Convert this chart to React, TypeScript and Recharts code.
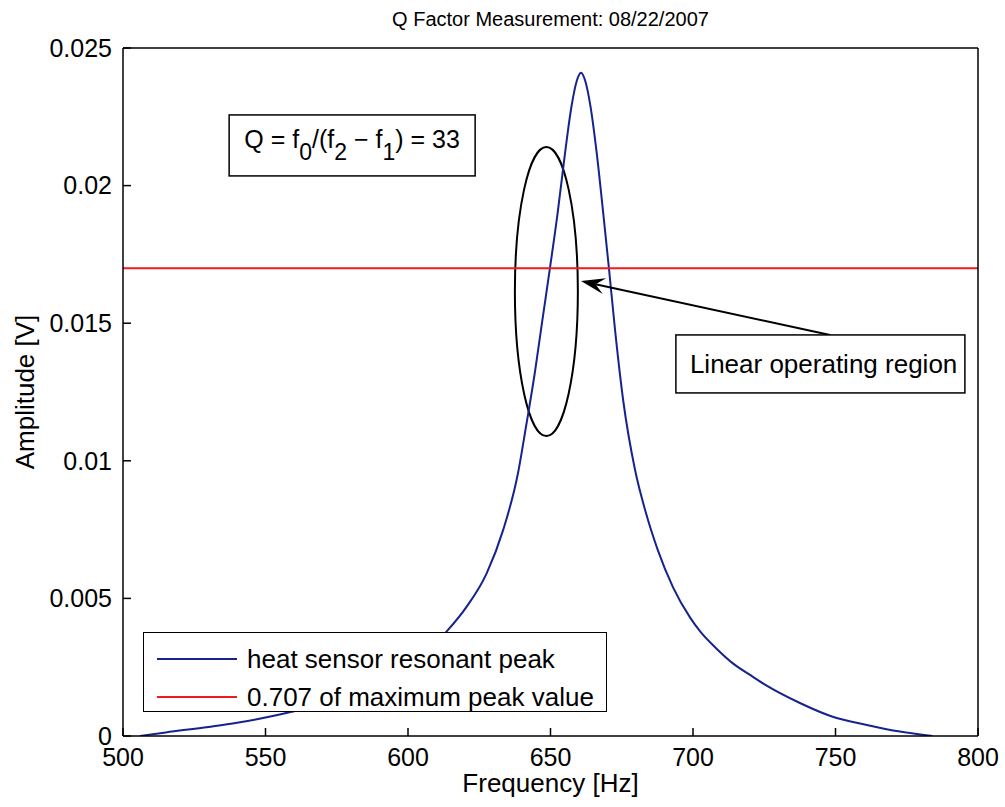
import React from "react";
import { LineChart, Line, XAxis, YAxis, Legend, Label, ReferenceArea, ReferenceLine, ReferenceDot } from "recharts";

const FONT = '"Liberation Sans", Arial, Helvetica, sans-serif';
const BLUE = "#15238e";
const RED = "#f21b1b";

// resonance sweep
const freqHz = [506, 515, 530, 540, 547, 555, 560, 570, 580, 590, 600, 607, 613.5, 620.6, 627.6, 633.4, 638.5, 641.5, 644.5, 647, 649.8, 652.5, 655, 657.4, 659.2, 660.7, 662.2, 664, 666.2, 668.5, 670.5, 672.7, 675.5, 679.6, 683.5, 687.5, 693, 699, 702.5, 708, 714, 720, 726, 737.5, 749, 761, 772.6, 784];
const amplitudeV = [0, 0.00013, 0.00033, 0.00048, 0.00061, 0.00078, 0.0009, 0.00118, 0.00154, 0.002, 0.00256, 0.0031, 0.00379, 0.0047, 0.00591, 0.00749, 0.0095, 0.0113, 0.0132, 0.015, 0.017, 0.019, 0.0211, 0.0229, 0.0238, 0.0241, 0.0238, 0.0229, 0.0212, 0.019, 0.017, 0.0147, 0.0122, 0.0097, 0.0081, 0.0068, 0.0054, 0.0043, 0.0038, 0.0032, 0.00264, 0.00222, 0.00182, 0.0012, 0.0007, 0.0004, 0.00016, 0];

// 0.707 of peak
const thresholdHz = [500, 800];
const thresholdV = [0.017, 0.017];

const xTicks = [500, 550, 600, 650, 700, 750, 800];
const yTicks = [0, 0.005, 0.01, 0.015, 0.02, 0.025];

const seriesNames = ["heat sensor resonant peak", "0.707 of maximum peak value"];

// annotation anchors (data units)
const ellipseHz = [637.5, 659.6];
const ellipseV = [0.0109, 0.0214];
const arrowHz = [748.1, 660.7];
const arrowV = [0.01457, 0.01653];
const qBox = { f: 580.4, v: 0.02146 };
const linBox = { f: 744.7, v: 0.01352 };

const peakData = freqHz.map((f, i) => ({ f, v: amplitudeV[i] }));
const thresholdData = thresholdHz.map((f, i) => ({ f, v: thresholdV[i] }));

const axisStyle = { stroke: "#000", strokeWidth: 1.5 };

const EllipseShape = (p: any) => (
  <ellipse cx={p.x + p.width / 2} cy={p.y + p.height / 2} rx={p.width / 2} ry={p.height / 2} fill="none" stroke="#000" strokeWidth={2} />
);

const ArrowShape = (p: any) => {
  const { x1, y1, x2, y2 } = p;
  const dx = x2 - x1, dy = y2 - y1;
  const len = Math.hypot(dx, dy);
  const ux = dx / len, uy = dy / len;
  const nx = -uy, ny = ux;
  const L = 24, W = 8;
  const bx = x2 - ux * L, by = y2 - uy * L;
  const mx = x2 - ux * L * 0.62, my = y2 - uy * L * 0.62;
  const pts = `${x2},${y2} ${bx + nx * W},${by + ny * W} ${mx},${my} ${bx - nx * W},${by - ny * W}`;
  return (
    <g>
      <line x1={x1} y1={y1} x2={mx} y2={my} stroke="#000" strokeWidth={2} />
      <polygon points={pts} fill="#000" />
    </g>
  );
};

const QBoxShape = (p: any) => {
  const w = 246, h = 61;
  return (
    <g>
      <rect x={p.cx - w / 2} y={p.cy - h / 2} width={w} height={h} fill="none" stroke="#000" strokeWidth={1.5} />
      <text x={p.cx} y={p.cy + 3} textAnchor="middle" fontFamily={FONT} fontSize={25} fill="#000">
        Q = f<tspan dy={12} fontSize={23}>0</tspan>
        <tspan dy={-12}>/(f</tspan>
        <tspan dy={12} fontSize={23}>2</tspan>
        <tspan dy={-12}> − f</tspan>
        <tspan dy={12} fontSize={23}>1</tspan>
        <tspan dy={-12}>) = 33</tspan>
      </text>
    </g>
  );
};

const LinBoxShape = (p: any) => {
  const w = 289, h = 58;
  return (
    <g>
      <rect x={p.cx - w / 2} y={p.cy - h / 2} width={w} height={h} fill="#fff" stroke="#000" strokeWidth={1.5} />
      <text x={p.cx - w / 2 + 14} y={p.cy + 9} fontFamily={FONT} fontSize={26} fill="#000">
        Linear operating region
      </text>
    </g>
  );
};

const renderLegend = (props: any) => {
  const items = [...(props.payload || [])].sort(
    (a: any, b: any) => seriesNames.indexOf(a.value) - seriesNames.indexOf(b.value)
  );
  return (
    <div style={{ background: "#fff", border: "1.5px solid #000", width: 464, height: 80, boxSizing: "border-box", paddingTop: 7, paddingLeft: 13, fontFamily: FONT, fontSize: 26, color: "#000" }}>
      {items.map((item: any) => (
        <div key={item.value} style={{ display: "flex", alignItems: "center", height: 38 }}>
          <svg width={80} height={4} style={{ display: "block" }}>
            <line x1={0} y1={2} x2={80} y2={2} stroke={item.color} strokeWidth={2} />
          </svg>
          <span style={{ marginLeft: 10, whiteSpace: "nowrap" }}>{item.value}</span>
        </div>
      ))}
    </div>
  );
};

export default function App() {
  return (
    <div style={{ position: "absolute", left: 0, top: 0, background: "#fff" }}>
      <LineChart width={1005} height={807} margin={{ top: 47, right: 26, bottom: 6, left: 23 }} style={{ fontFamily: FONT }}>
        <XAxis
          dataKey="f"
          type="number"
          domain={[500, 800]}
          ticks={xTicks}
          interval={0}
          height={65}
          axisLine={axisStyle}
          tickLine={axisStyle}
          tickSize={-8}
          tickMargin={20}
          tick={{ fill: "#000", fontSize: 25, fontFamily: FONT }}
          allowDataOverflow
        >
          <Label value="Frequency [Hz]" position="insideBottom" offset={9} fill="#000" fontSize={26} fontFamily={FONT} />
        </XAxis>
        <XAxis
          xAxisId="top"
          orientation="top"
          dataKey="f"
          type="number"
          domain={[500, 800]}
          ticks={xTicks}
          interval={0}
          height={1}
          axisLine={axisStyle}
          tickLine={axisStyle}
          tickSize={-8}
          tick={{ fill: "none" }}
        >
          <Label value="Q Factor Measurement: 08/22/2007" position="top" offset={21} fill="#000" fontSize={20} fontFamily={FONT} />
        </XAxis>
        <YAxis
          type="number"
          domain={[0, 0.025]}
          ticks={yTicks}
          interval={0}
          width={100}
          axisLine={axisStyle}
          tickLine={axisStyle}
          tickSize={-8}
          tickMargin={19}
          tick={{ fill: "#000", fontSize: 25, fontFamily: FONT }}
          allowDataOverflow
        >
          <Label
            content={({ viewBox }: any) => {
              const x = viewBox.x + 11;
              const y = viewBox.y + viewBox.height / 2;
              return (
                <text x={x} y={y} transform={`rotate(-90, ${x}, ${y})`} textAnchor="middle" fill="#000" fontSize={26} fontFamily={FONT}>
                  Amplitude [V]
                </text>
              );
            }}
          />
        </YAxis>
        <YAxis
          yAxisId="right"
          orientation="right"
          type="number"
          domain={[0, 0.025]}
          ticks={yTicks}
          interval={0}
          width={1}
          axisLine={axisStyle}
          tickLine={axisStyle}
          tickSize={-8}
          tick={{ fill: "none" }}
        />
        <Line data={peakData} dataKey="v" name={seriesNames[0]} type="monotone" stroke={BLUE} strokeWidth={2} dot={false} activeDot={false} isAnimationActive={false} />
        <Line data={thresholdData} dataKey="v" name={seriesNames[1]} type="linear" stroke={RED} strokeWidth={2} dot={false} activeDot={false} isAnimationActive={false} />
        <ReferenceArea x1={ellipseHz[0]} x2={ellipseHz[1]} y1={ellipseV[0]} y2={ellipseV[1]} shape={EllipseShape} ifOverflow="visible" />
        <ReferenceLine segment={[{ x: arrowHz[0], y: arrowV[0] }, { x: arrowHz[1], y: arrowV[1] }]} shape={ArrowShape} ifOverflow="visible" />
        <ReferenceDot x={qBox.f} y={qBox.v} r={1} shape={QBoxShape} ifOverflow="visible" />
        <ReferenceDot x={linBox.f} y={linBox.v} r={1} shape={LinBoxShape} ifOverflow="visible" />
        <Legend
          layout="vertical"
          align="center"
          verticalAlign="middle"
          content={renderLegend}
          wrapperStyle={{ position: "absolute", left: 143, top: 632, width: "auto", height: "auto", margin: 0 }}
        />
      </LineChart>
    </div>
  );
}
